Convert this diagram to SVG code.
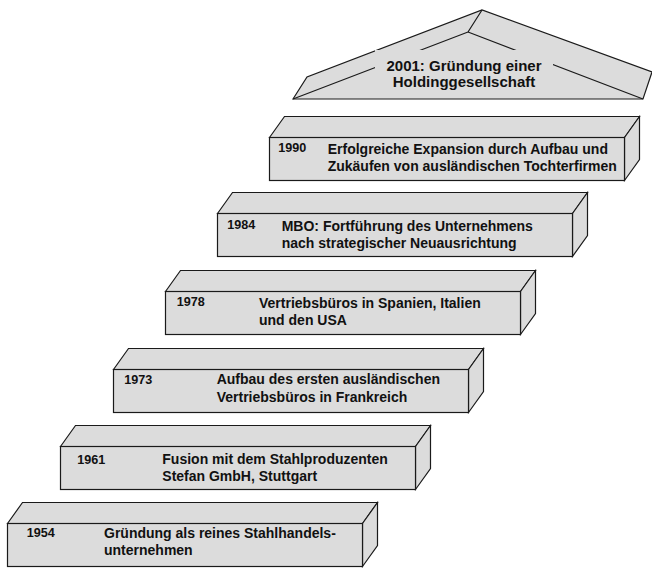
<svg xmlns="http://www.w3.org/2000/svg" width="652" height="570" viewBox="0 0 652 570">
  <style>
    .face { fill: #dcdcdc; stroke: #1a1a1a; stroke-width: 1.2; stroke-linejoin: miter; }
    .edge { fill: none; stroke: #1a1a1a; stroke-width: 1.2; }
    .pad { fill: #dcdcdc; stroke: none; }
    text { font-family: "Liberation Sans", Arial, Helvetica, sans-serif; font-weight: bold; fill: #111; }
    .yr { font-size: 12.6px; }
    .tx { font-size: 14px; }
    .roof { font-size: 15px; text-anchor: middle; }
  </style>
  <defs>
    <!-- one 3D step: top face, right face, front face (355 x 43, depth 15/-21) -->
    <g id="block">
      <polygon class="face" points="0,0 15,-21 370,-21 355,0"/>
      <polygon class="face" points="355,0 370,-21 370,22 355,43"/>
      <rect class="face" x="0" y="0" width="355" height="43"/>
    </g>
  </defs>

  <!-- roof -->
  <g id="roof">
    <polygon class="face" points="293,99 307,77 482,10 652,72 643,99"/>
    <path class="edge" d="M482,10 L468,32 M468,32 L293,99 M468,32 L643,99"/>
    <rect class="pad" x="375" y="50" width="178" height="47"/>
    <text class="roof" x="464" y="70.7">2001: Gründung einer</text>
    <text class="roof" x="464" y="87.3">Holdinggesellschaft</text>
  </g>

  <g id="step1990">
    <use href="#block" x="269.5" y="137.5"/>
    <text class="yr" x="278.3" y="151.7">1990</text>
    <text class="tx" x="327.7" y="154">Erfolgreiche Expansion durch Aufbau und</text>
    <text class="tx" x="327.7" y="170.7">Zukäufen von ausländischen Tochterfirmen</text>
  </g>

  <g id="step1984">
    <use href="#block" x="217.5" y="213.5"/>
    <text class="yr" x="227.3" y="229">1984</text>
    <text class="tx" x="281.7" y="230.7">MBO: Fortführung des Unternehmens</text>
    <text class="tx" x="281.7" y="247.7">nach strategischer Neuausrichtung</text>
  </g>

  <g id="step1978">
    <use href="#block" x="165.5" y="291.5"/>
    <text class="yr" x="176.7" y="305.7">1978</text>
    <text class="tx" x="259" y="308.3">Vertriebsbüros in Spanien, Italien</text>
    <text class="tx" x="259" y="325">und den USA</text>
  </g>

  <g id="step1973">
    <use href="#block" x="113.5" y="369.5"/>
    <text class="yr" x="124.3" y="384">1973</text>
    <text class="tx" x="216.7" y="384">Aufbau des ersten ausländischen</text>
    <text class="tx" x="216.7" y="401.7">Vertriebsbüros in Frankreich</text>
  </g>

  <g id="step1961">
    <use href="#block" x="60.5" y="446.5"/>
    <text class="yr" x="77.3" y="464">1961</text>
    <text class="tx" x="162.3" y="463.5">Fusion mit dem Stahlproduzenten</text>
    <text class="tx" x="162.3" y="480.5">Stefan GmbH, Stuttgart</text>
  </g>

  <g id="step1954">
    <use href="#block" x="7.5" y="523.5"/>
    <text class="yr" x="26.7" y="536.7">1954</text>
    <text class="tx" x="104" y="537.7">Gründung als reines Stahlhandels-</text>
    <text class="tx" x="104" y="555">unternehmen</text>
  </g>

  <!-- the steps are stacked shapes without connecting lines -->
  <g id="connectors"/>
</svg>
